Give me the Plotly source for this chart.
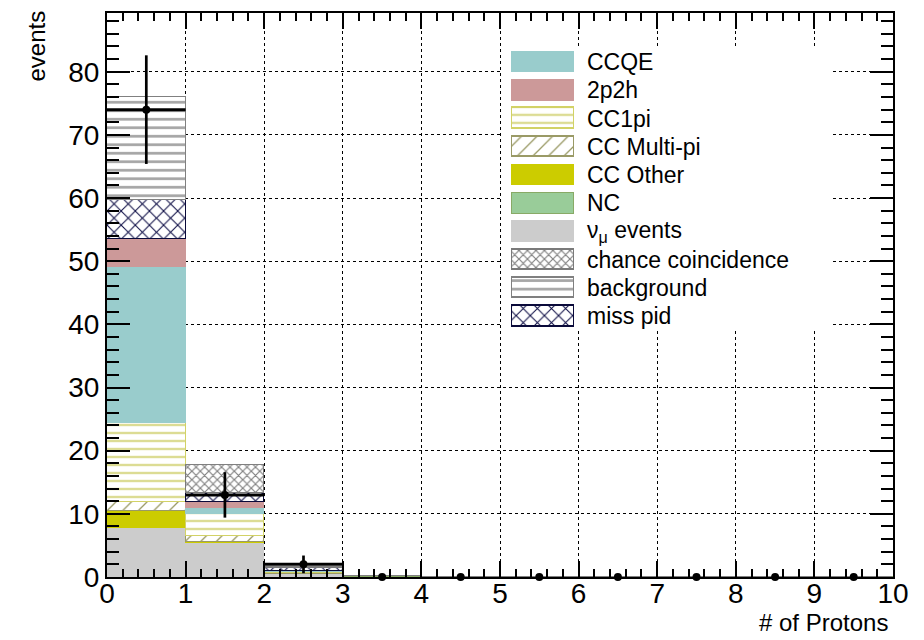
import plotly.graph_objects as go

# ---------------- data ----------------
bin_centers = [0.5, 1.5, 2.5, 3.5, 4.5, 5.5, 6.5, 7.5, 8.5, 9.5]
numu_events = [7.7, 5.4, 0.5, 0, 0, 0, 0, 0, 0, 0]
cc_other    = [2.75, 0.2, 0.05, 0, 0, 0, 0, 0, 0, 0]
cc_multipi  = [1.4, 0.9, 0.05, 0, 0, 0, 0, 0, 0, 0]
cc1pi       = [12.6, 3.4, 0.2, 0, 0, 0, 0, 0, 0, 0]
ccqe        = [24.6, 1.1, 0.1, 0, 0, 0, 0, 0, 0, 0]
twop2h      = [4.5, 0.8, 0.05, 0, 0, 0, 0, 0, 0, 0]
nc          = [0, 0, 0, 0.08, 0, 0, 0, 0, 0, 0]
miss_pid    = [6.2, 1.5, 0.55, 0, 0, 0, 0, 0, 0, 0]
chance      = [0, 4.5, 0.1, 0, 0, 0, 0, 0, 0, 0]
background  = [16.3, 0, 0, 0, 0, 0, 0, 0, 0, 0]
data_vals   = [74, 13, 2, 0, 0, 0, 0, 0, 0, 0]
data_err    = [8.6, 3.6, 1.4, 0, 0, 0, 0, 0, 0, 0]
data_xerr   = [0.5, 0.5, 0.5, 0, 0, 0, 0, 0, 0, 0]

FONT = "Liberation Sans, Arial, Helvetica, sans-serif"

def solid(c, lc=None):
    return dict(color=c, line=dict(color=lc or c, width=1))

def patt(shape, fg, lc, size, sol, lw=1.5):
    return dict(color="white", line=dict(color=lc, width=lw),
                pattern=dict(shape=shape, fgcolor=fg, bgcolor="white",
                             size=size, solidity=sol, fillmode="replace"))

styles = {
    "CCQE": solid("#99cccc"),
    "2p2h": solid("#cc9999"),
    "CC1pi": patt("-", "#dcdc94", "#d2d266", 8, 0.3),
    "CC Multi-pi": patt("/", "#9a9a66", "#9a9a66", 11, 0.12),
    "CC Other": solid("#cccc00"),
    "NC": solid("#99cc99", "#88aa66"),
    "ν<sub>μ</sub> events": solid("#cccccc"),
    "chance coincidence": patt("x", "#808080", "#7a7a7a", 6, 0.35),
    "background": patt("-", "#a6a6a6", "#808080", 8.5, 0.32),
    "miss pid": patt("x", "#0d0d45", "#0a0a3a", 10, 0.2),
}

stack_order = [
    ("ν<sub>μ</sub> events", numu_events),
    ("CC Other", cc_other),
    ("CC Multi-pi", cc_multipi),
    ("CC1pi", cc1pi),
    ("CCQE", ccqe),
    ("2p2h", twop2h),
    ("NC", nc),
    ("miss pid", miss_pid),
    ("chance coincidence", chance),
    ("background", background),
]

legend_order = ["CCQE", "2p2h", "CC1pi", "CC Multi-pi", "CC Other", "NC",
                "ν<sub>μ</sub> events", "chance coincidence", "background", "miss pid"]

fig = go.Figure()
for name, vals in stack_order:
    fig.add_trace(go.Bar(x=bin_centers, y=vals, width=1, name=name,
                         marker=styles[name], showlegend=False,
                         xaxis="x", yaxis="y"))

fig.add_trace(go.Scatter(
    x=bin_centers, y=data_vals, mode="markers",
    marker=dict(color="black", size=8),
    error_y=dict(type="data", array=data_err, color="black", thickness=2.7, width=0),
    error_x=dict(type="data", array=data_xerr, color="black", thickness=3, width=0),
    showlegend=False, xaxis="x", yaxis="y", cliponaxis=False))

# ---------------- custom legend (own subplot) ----------------
BOX_W, BOX_H = 328, 285
fig.add_trace(go.Bar(x=[BOX_W], base=[0], y=[BOX_H / 2], width=BOX_H, orientation="h",
                     marker=dict(color="white", line=dict(width=0)),
                     hoverinfo="skip", showlegend=False, xaxis="x2", yaxis="y2"))
row0, step = 15.3, 28.33
for i, name in enumerate(legend_order):
    yc = row0 + i * step
    fig.add_trace(go.Bar(x=[62], base=[10], y=[yc], width=20.5, orientation="h",
                         marker=styles[name], showlegend=False,
                         xaxis="x2", yaxis="y2", hoverinfo="skip"))
    fig.add_annotation(x=83, y=yc, xref="x2", yref="y2", text=name,
                       showarrow=False, xanchor="left", yanchor="middle",
                       font=dict(family=FONT, size=23, color="black"))

L, R, T, B = 107, 31, 11, 63
W, H = 924, 640
pw, ph = W - L - R, H - T - B

def px_x(p):
    return (p - L) / pw

def px_y(p):
    return (H - B - p) / ph

axis_common = dict(showline=True, linecolor="black", linewidth=2, mirror="ticks",
                   ticks="inside", tickcolor="black", tickwidth=1.5,
                   showgrid=True, gridcolor="black", gridwidth=1, griddash="dot",
                   zeroline=False, tickfont=dict(family=FONT, size=28, color="black"))

fig.update_layout(
    width=W, height=H, autosize=False,
    margin=dict(l=L, r=R, t=T, b=B, pad=0),
    plot_bgcolor="white", paper_bgcolor="white",
    barmode="stack", bargap=0,
    showlegend=False,
    xaxis=dict(range=[0, 10], tick0=0, dtick=1, ticklen=16, ticklabelstandoff=-10,
               minor=dict(dtick=0.2, ticklen=8, ticks="inside", tickcolor="black",
                          tickwidth=1.5, showgrid=False),
               **axis_common),
    yaxis=dict(range=[0, 89.3], tick0=0, dtick=10, ticklen=23,
               minor=dict(dtick=2, ticklen=12, ticks="inside", tickcolor="black",
                          tickwidth=1.5, showgrid=False),
               **axis_common),
    xaxis2=dict(domain=[px_x(502), px_x(502 + BOX_W)], range=[0, BOX_W],
                visible=False, anchor="y2"),
    yaxis2=dict(domain=[px_y(45 + BOX_H), px_y(45)], range=[BOX_H, 0],
                visible=False, anchor="x2"),
)

fig.add_annotation(text="# of Protons", xref="paper", yref="paper",
                   x=px_x(890), y=px_y(623), xanchor="right", yanchor="middle",
                   showarrow=False, font=dict(family=FONT, size=24, color="black"))
fig.add_annotation(text="events", xref="paper", yref="paper", textangle=-90,
                   x=px_x(37), y=px_y(7), xanchor="center", yanchor="top",
                   showarrow=False, font=dict(family=FONT, size=24, color="black"))

fig.write_html("out.html")
